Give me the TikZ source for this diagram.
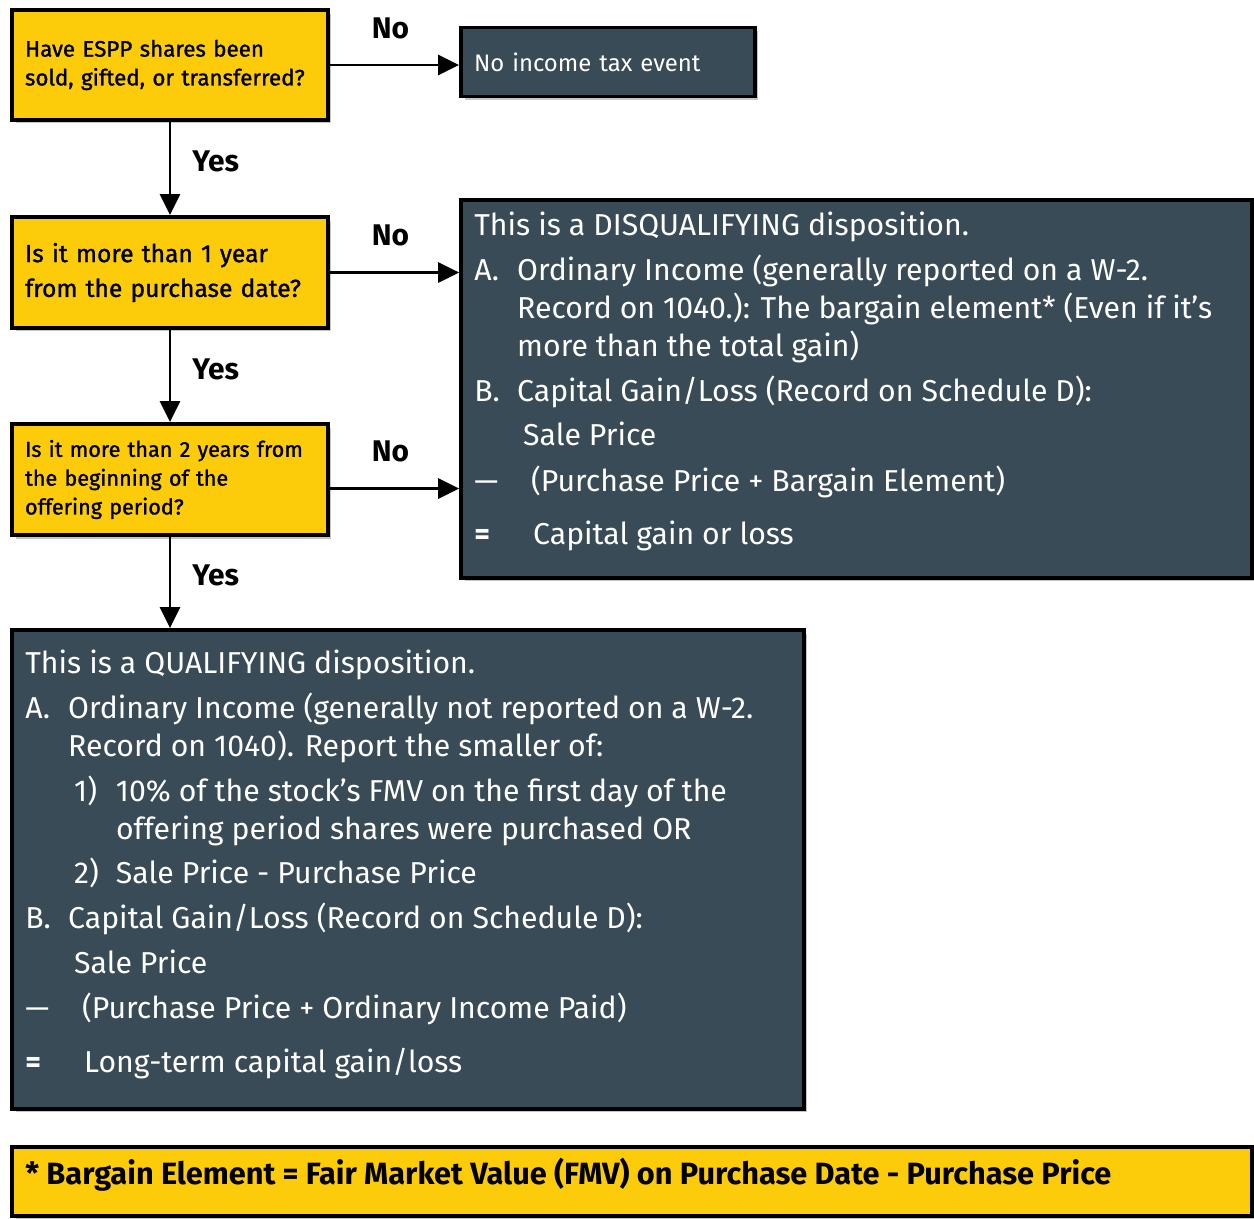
\documentclass[tikz,border=0pt]{standalone}
\usepackage{fontspec}
\setmainfont{Fira Sans}
\newfontfamily\askfont{Fira Sans}[FakeBold=1.2]
\usetikzlibrary{arrows.meta,shadows}

\definecolor{espyellow}{RGB}{252,204,10}
\definecolor{espslate}{RGB}{57,75,87}

% label of fixed width at the start of a line
\newcommand{\lab}[2]{\makebox[#1][l]{#2}}

\tikzset{
  box/.style={draw=black, line width=2.2pt, inner xsep=0.26cm, inner ysep=0pt,
    drop shadow={shadow xshift=0.07cm, shadow yshift=-0.07cm, fill=black!45, opacity=0.5}},
  askbox/.style={box, fill=espyellow, minimum width=6.32cm, text width=5.8cm, align=left,
    font=\askfont\fontsize{12.7pt}{16.4pt}\selectfont},
  slatebox/.style={box, fill=espslate},
  slatetext/.style={inner sep=0pt, text=white, align=left,
    font=\fontsize{17.2pt}{21.5pt}\selectfont},
  flow/.style={line width=1.7pt, -{Triangle[length=0.42cm, width=0.4cm]}},
  answer/.style={font=\fontsize{17pt}{20pt}\selectfont\bfseries},
  no/.style={answer, above=0.38cm, xshift=-0.08cm},
  yes/.style={answer, right=0.3cm, yshift=0.14cm}
}

\begin{document}
\begin{tikzpicture}[x=0.02cm, y=-0.02cm]
  \useasboundingbox (0,0) rectangle (1254,1218);

  % questions
  \node[askbox, minimum height=2.2cm] (sold) at (170,65)
    {Have ESPP shares been\\sold, gifted, or transferred?};
  \node[askbox, minimum height=2.22cm, font=\askfont\fontsize{14pt}{19.8pt}\selectfont] (oneyear) at (170,272.5)
    {Is it more than 1 year\\from the purchase date?};
  \node[askbox, minimum height=2.22cm, font=\askfont\fontsize{12.3pt}{16.4pt}\selectfont] (twoyears) at (170,479.5)
    {\mbox{Is it more than 2 years from}\\the beginning of the\\offering period?};

  % outcomes
  \node[slatebox, minimum width=5.88cm, minimum height=1.38cm, text width=5.36cm, align=left,
    text=white, font=\fontsize{13.6pt}{16pt}\selectfont] (notax) at (608,62) {No income tax event};
  \node[slatebox, minimum width=15.82cm, minimum height=7.56cm] (disq) at (856.5,389) {};
  \node[slatebox, minimum width=15.84cm, minimum height=9.58cm] (qual) at (408,869.5) {};
  \node[box, fill=espyellow, minimum width=24.8cm, minimum height=1.38cm] (note) at (632,1181.5) {};

  \node[slatetext, anchor=north west] (disqtxt) at (474,212)
    {This is a DISQUALIFYING disposition.\\[4pt]
     \lab{24.4pt}{A.}Ordinary Income (generally reported on a W-2.\\
     \lab{24.4pt}{}Record on 1040.): The bargain element* (Even if it’s\\
     \lab{24.4pt}{}more than the total gain)\\[4pt]
     \lab{24.4pt}{B.}Capital Gain/Loss (Record on Schedule D):\\[4pt]
     \lab{27.8pt}{}Sale Price\\[4.3pt]
     \lab{32.3pt}{—}(Purchase Price + Bargain Element)\\[9pt]
     \lab{33.5pt}{\bfseries =}Capital gain or loss};

  \node[slatetext, anchor=north west] (qualtxt) at (25,650)
    {This is a QUALIFYING disposition.\\[4pt]
     \lab{24.4pt}{A.}Ordinary Income (generally not reported on a W-2.\\
     \lab{24.4pt}{}Record on 1040). Report the smaller of:\\[4pt]
     \lab{27.8pt}{}\lab{23.8pt}{1)}10\% of the stock’s FMV on the first day of the\\
     \lab{51.6pt}{}offering period shares were purchased OR\\[4pt]
     \lab{27.8pt}{}\lab{23.8pt}{2)}Sale Price - Purchase Price\\[4pt]
     \lab{24.4pt}{B.}Capital Gain/Loss (Record on Schedule D):\\[4pt]
     \lab{27.8pt}{}Sale Price\\[4.3pt]
     \lab{32.3pt}{—}(Purchase Price + Ordinary Income Paid)\\[9pt]
     \lab{33.5pt}{\bfseries =}Long-term capital gain/loss};

  \node[anchor=west, inner sep=0pt, font=\fontsize{17.5pt}{20pt}\selectfont\bfseries] (notetxt) at (25,1175)
    {* Bargain Element = Fair Market Value (FMV) on Purchase Date - Purchase Price};

  % connectors
  \draw[flow] (sold.east) -- node[no] {No} (sold.east -| notax.west);
  \draw[flow] (sold) -- node[yes] {Yes} (oneyear);
  \draw[flow] (oneyear.east) -- node[no] {No} (oneyear.east -| disq.west);
  \draw[flow] (oneyear) -- node[yes] {Yes} (twoyears);
  \draw[flow] ([yshift=-0.18cm]twoyears.east) -- node[no] {No}
    ([yshift=-0.18cm]twoyears.east -| disq.west);
  \draw[flow] (twoyears.south) -- node[yes] {Yes} (twoyears.south |- qual.north);
\end{tikzpicture}
\end{document}
